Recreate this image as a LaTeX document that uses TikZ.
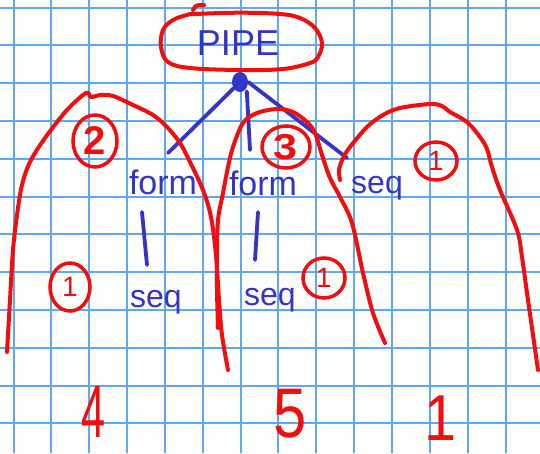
\documentclass[tikz,border=0pt]{standalone}
\usepackage{fontspec}
\setmainfont{Liberation Sans}
\usetikzlibrary{shapes.geometric}
\definecolor{gridblue}{RGB}{95,168,245}
\definecolor{penred}{RGB}{242,14,14}
\definecolor{penblue}{RGB}{52,52,200}
\begin{document}
\begin{tikzpicture}[x=1pt,y=-1pt,
  gridline/.style={draw=gridblue, line width=2pt},
  redpen/.style={draw=penred, line width=4pt, line cap=round, line join=round},
  bluepen/.style={draw=penblue, line width=3.8pt, line cap=round},
  bluetext/.style={text=penblue, inner sep=0pt},
  redtext/.style={text=penred, inner sep=0pt},
  ring/.style={ellipse, draw=penred, line width=3.5pt, inner sep=0pt, text=penred},
  fs/.style={font=\fontsize{#1}{#1}\selectfont}
]
% paper
\useasboundingbox (0,0) rectangle (540,453);
\fill[white] (0,0) rectangle (540,453);
\foreach \k in {0,...,13} {\draw[gridline] ({13.5+37.85*\k},0) -- ({13.5+37.85*\k},453);}
\foreach \k in {0,...,11} {\draw[gridline] (0,{7.5+37.8*\k}) -- (540,{7.5+37.8*\k});}

% pipe root
\node[bluetext, fs=36] (pipe) at (238,43) {PIPE};
\draw[redpen] plot[smooth cycle, tension=0.6] coordinates {(195,14) (240,12.7) (280,14) (300,18) (315,28) (322,43) (318,57) (310,63) (283,69) (240,70) (190,68) (168,62) (161,47) (163,30) (173,20) (187,15)};
\draw[redpen] (204,5) .. controls (196,5) .. (193,10);
\node[ellipse, fill=penblue, inner sep=0pt, minimum width=16pt, minimum height=20pt] (dot) at (240,82) {};

% children
\node[bluetext, fs=34] (form1) at (163,182) {form};
\node[bluetext, fs=34] (form2) at (263,183) {form};
\node[bluetext, fs=32] (seq3) at (377,188) {seq};
\node[bluetext, fs=32] (seq1) at (156,302) {seq};
\node[bluetext, fs=32] (seq2) at (270,300) {seq};

\coordinate (e1) at (168,153);
\coordinate (e2) at (250,150);
\coordinate (e3) at (347,158);
\draw[bluepen] (dot) -- (e1);
\draw[bluepen] (dot.south east) ++(1,2) coordinate (s2) (s2) -- (e2);
\draw[bluepen] (dot.east) -- (e3);

\coordinate (b1t) at (142,212);
\coordinate (b1b) at (147,265);
\coordinate (b2t) at (258,212);
\coordinate (b2b) at (255,260);
\draw[bluepen] (b1t) -- (b1b);
\draw[bluepen] (b2t) -- (b2b);

% grouping arches
\draw[redpen] plot[smooth, tension=0.55] coordinates {(7,352) (10,300) (13,250) (17,215) (22,185) (30,162) (45,138) (67,110) (86,93) (91,97) (100,95) (113,96) (133,105) (153,115) (167,127) (180,143) (190,162) (203,190) (211,217) (216,255) (219,300) (222,335) (228,370)};
\draw[redpen] plot[smooth, tension=0.55] coordinates {(218,328) (217,290) (217,255) (218,220) (223,193) (228,167) (233,147) (243,123) (257,113) (277,109) (293,112) (307,122) (315,133) (322,155) (330,178) (340,197) (352,223) (363,273) (373,313) (385,343)};
\draw[redpen] plot[smooth, tension=0.55] coordinates {(340,180) (339,170) (343,158) (350,147) (367,127) (383,115) (400,108) (430,104) (442,106) (450,112) (467,122) (480,137) (487,149) (492,167) (500,190) (517,230) (522,257) (527,293) (533,335) (538,370)};

% circled counts
\node[ring, fs=40, minimum width=44pt, minimum height=52pt] (r2) at (95,141) {\bfseries 2};
\node[ring, fs=36, minimum width=48pt, minimum height=42pt] (r3) at (286,147) {\scalebox{1.2}[1]{\bfseries 3}};
\node[ring, fs=28, minimum width=42pt, minimum height=38pt] (r1a) at (436,161) {1};
\node[ring, fs=28, minimum width=42pt, minimum height=40pt] (r1b) at (324,278) {1};
\node[ring, fs=28, minimum width=40pt, minimum height=48pt] (r1c) at (70,287) {1};

% totals
\node[redtext, fs=54] (t4) at (94,412) {\scalebox{0.8}[1.38]{4}};
\node[redtext, fs=52] (t5) at (290,414) {\scalebox{1.15}[1.35]{5}};
\node[redtext, fs=50] (t1) at (440,418) {\scalebox{1.15}[1.3]{1}};
\end{tikzpicture}
\end{document}
